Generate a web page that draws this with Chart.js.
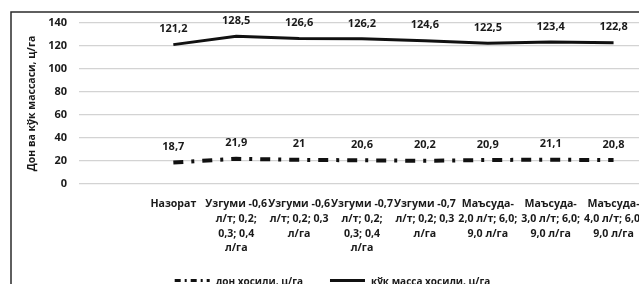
<!DOCTYPE html>
<html>
<head>
<meta charset="utf-8">
<script src="https://cdn.jsdelivr.net/npm/chart.js@4/dist/chart.umd.min.js"></script>
<style>
  html, body { margin: 0; padding: 0; background: #fff; overflow: hidden; }
  #wrap { position: absolute; left: 0; top: 0; width: 680px; height: 300px; }
</style>
</head>
<body>
<div id="wrap"><canvas id="myChart" width="680" height="300"></canvas></div>
<script>
// categories (first slot is empty in the original chart)
const categories = [
    '',
    'Назорат',
    ['Узгуми -0,6', 'л/т; 0,2;', '0,3; 0,4', 'л/га'],
    ['Узгуми -0,6', 'л/т; 0,2; 0,3', 'л/га'],
    ['Узгуми -0,7', 'л/т; 0,2;', '0,3; 0,4', 'л/га'],
    ['Узгуми -0,7', 'л/т; 0,2; 0,3', 'л/га'],
    ['Маъсуда-', '2,0 л/т; 6,0;', '9,0 л/га'],
    ['Маъсуда-', '3,0 л/т; 6,0;', '9,0 л/га'],
    ['Маъсуда-', '4,0 л/т; 6,0;', '9,0 л/га']
]

// series values, ц/га
const grainYield = [null, 18.7, 21.9, 21, 20.6, 20.2, 20.9, 21.1, 20.8]
const greenMass = [null, 121.2, 128.5, 126.6, 126.2, 124.6, 122.5, 123.4, 122.8]

const seriesNames = ['дон хосили, ц/га', 'кўк масса хосили, ц/га']
const yTitle = 'Дон ва кўк массаси, ц/га'

const fontFamily = '"Open Sans", "Noto Sans", sans-serif'
const textColor = '#1a1a1a'

// frame around the chart (top and left edges visible)
const framePlugin = {
    id: 'frame',
    beforeDraw(chart) {
        const ctx = chart.ctx
        ctx.save()
        ctx.strokeStyle = '#2b2b2b'
        ctx.lineWidth = 1.5
        ctx.beginPath()
        ctx.moveTo(11, chart.height)
        ctx.lineTo(11, 12)
        ctx.lineTo(chart.width, 12)
        ctx.stroke()
        ctx.restore()
    }
}

// value labels above each point
const valueLabels = {
    id: 'valueLabels',
    afterDatasetsDraw(chart) {
        const ctx = chart.ctx
        ctx.save()
        ctx.font = 'bold 11px ' + fontFamily
        ctx.fillStyle = textColor
        ctx.textAlign = 'center'
        ctx.textBaseline = 'middle'
        chart.data.datasets.forEach((ds, i) => {
            const meta = chart.getDatasetMeta(i)
            meta.data.forEach((pt, j) => {
                const v = ds.data[j]
                if (v === null) return
                ctx.fillText(String(v).replace('.', ','), pt.x, pt.y - 15.5)
            })
        })
        ctx.restore()
    }
}

// legend under the axis labels; the dashed sample uses a shorter pattern, as in the original
const bottomLegend = {
    id: 'bottomLegend',
    afterDraw(chart) {
        const ctx = chart.ctx
        const sample = 35, gap = 27, centerX = 332.5, y = 280.5
        ctx.save()
        ctx.font = 'bold 10px ' + fontFamily
        const items = chart.data.datasets.map(ds => ({ ds: ds, w: sample + 6 + ctx.measureText(ds.label).width }))
        const total = items.reduce((s, it) => s + it.w, 0) + gap * (items.length - 1)
        let x = centerX - total / 2
        items.forEach(it => {
            ctx.strokeStyle = it.ds.borderColor
            ctx.lineWidth = 3
            ctx.setLineDash(it.ds.borderDash ? [6, 4, 2, 4] : [])
            ctx.beginPath()
            ctx.moveTo(x, y)
            ctx.lineTo(x + sample, y)
            ctx.stroke()
            ctx.setLineDash([])
            ctx.fillStyle = textColor
            ctx.textBaseline = 'middle'
            ctx.fillText(it.ds.label, x + sample + 6, y + 2)
            x += it.w + gap
        })
        ctx.restore()
    }
}

const padLeft = 20
const chart = document.getElementById('myChart').getContext('2d')

new Chart(chart, {
    type: 'line',
    data: {
        labels: categories,
        datasets: [
            {
                label: seriesNames[0],
                data: grainYield,
                borderColor: '#111',
                backgroundColor: '#111',
                borderWidth: 4,
                borderDash: [10, 8, 3, 8],
                pointRadius: 0,
                tension: 0
            },
            {
                label: seriesNames[1],
                data: greenMass,
                borderColor: '#111',
                backgroundColor: '#111',
                borderWidth: 3,
                pointRadius: 0,
                tension: 0
            }
        ]
    },
    options: {
        responsive: false,
        animation: false,
        layout: {
            padding: { top: 23, left: padLeft, right: 35, bottom: 36 }
        },
        plugins: {
            legend: { display: false },
            tooltip: { enabled: false }
        },
        scales: {
            x: {
                offset: true,
                grid: { display: false, drawTicks: false },
                border: { display: false },
                ticks: {
                    autoSkip: false,
                    maxRotation: 0,
                    padding: 13,
                    color: textColor,
                    font: { family: fontFamily, size: 10.6, weight: 'bold', lineHeight: 1.38 }
                },
                afterFit(scale) { scale.height = 80 }
            },
            y: {
                min: 0,
                max: 140,
                ticks: {
                    stepSize: 20,
                    padding: 12,
                    color: textColor,
                    font: { family: fontFamily, size: 11, weight: 'bold' }
                },
                grid: { color: '#d3d3d3', lineWidth: 1.2, drawTicks: false },
                border: { display: false },
                title: {
                    display: true,
                    text: yTitle,
                    color: textColor,
                    padding: { top: 6, bottom: 0 },
                    font: { family: fontFamily, size: 10.5, weight: 'bold' }
                },
                afterFit(scale) { scale.width = 79 - padLeft }
            }
        }
    },
    plugins: [framePlugin, valueLabels, bottomLegend]
})
</script>
</body>
</html>
